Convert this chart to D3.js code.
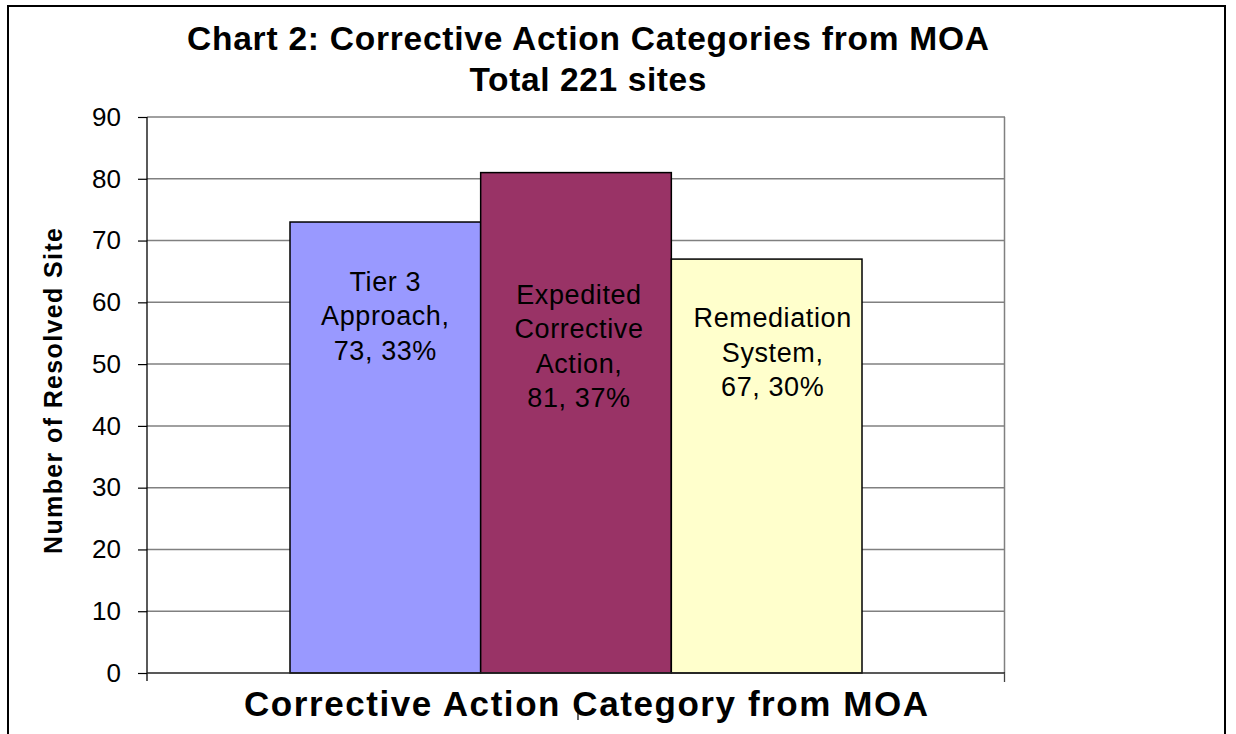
<!DOCTYPE html>
<html>
<head>
<meta charset="utf-8">
<script src="https://cdn.jsdelivr.net/npm/d3@7"></script>
<style>
  body { margin: 0; background: #fff; }
  text { font-family: "Liberation Sans", Arial, sans-serif; }
</style>
</head>
<body>
<script>
// chart data
var category = "Corrective Action";
var seriesNames = ["Tier 3 Approach", "Expedited Corrective Action", "Remediation System"];
var labelLines = [["Tier 3", "Approach,"], ["Expedited", "Corrective", "Action,"], ["Remediation", "System,"]];
var values = [73, 81, 67];
var colors = ["#9999ff", "#993366", "#ffffcc"];
var yTicks = [0, 10, 20, 30, 40, 50, 60, 70, 80, 90];
// where the first line of each data label sits, in chart units
var labelAt = [61.9, 59.8, 56.0];
var labelDx = [0, 3, 6];

var total = d3.sum(values);

var width = 1236, height = 734;
var plotLeft = 147, plotRight = 1005, plotTop = 117, plotBottom = 673;

var svg = d3.select("body").append("svg")
    .attr("width", width)
    .attr("height", height);

// outer frame
svg.append("rect")
    .attr("x", 8).attr("y", 6)
    .attr("width", 1217).attr("height", 760)
    .attr("fill", "none")
    .attr("stroke", "#000")
    .attr("stroke-width", 2);

var y = d3.scaleLinear().domain([0, 90]).range([plotBottom, plotTop]);

var x0 = d3.scaleBand()
    .domain([category])
    .range([plotLeft, plotRight])
    .paddingInner(0)
    .paddingOuter(0.25);

var x1 = d3.scaleBand()
    .domain(seriesNames)
    .range([0, x0.bandwidth()]);

// gridlines
svg.append("g").selectAll("line")
    .data(yTicks.filter(function(d) { return d > 0; }))
    .enter().append("line")
        .attr("x1", plotLeft).attr("x2", plotRight)
        .attr("y1", function(d) { return y(d); })
        .attr("y2", function(d) { return y(d); })
        .attr("stroke", "#808080")
        .attr("stroke-width", 1.5);

// right edge of plot area
svg.append("line")
    .attr("x1", plotRight - 0.5).attr("x2", plotRight - 0.5)
    .attr("y1", plotTop).attr("y2", plotBottom)
    .attr("stroke", "#808080")
    .attr("stroke-width", 1.5);

// bars
svg.append("g").selectAll("rect")
    .data(values)
    .enter().append("rect")
        .attr("x", function(d, i) { return x0(category) + x1(seriesNames[i]); })
        .attr("y", function(d) { return y(d); })
        .attr("width", x1.bandwidth())
        .attr("height", function(d) { return y(0) - y(d); })
        .attr("fill", function(d, i) { return colors[i]; })
        .attr("stroke", "#000")
        .attr("stroke-width", 1.5);

// y axis
var yAxis = d3.axisLeft(y)
    .tickValues(yTicks)
    .tickSize(9)
    .tickPadding(17);

var yg = svg.append("g")
    .attr("transform", "translate(" + plotLeft + ",0)")
    .call(yAxis);
yg.select(".domain").remove();
yg.selectAll(".tick line").attr("stroke", "#000").attr("stroke-width", 1.2);
yg.selectAll(".tick text")
    .attr("font-size", 26)
    .attr("fill", "#000")
    .style("font-family", "Liberation Sans, Arial, sans-serif");

svg.append("line")
    .attr("x1", plotLeft).attr("x2", plotLeft)
    .attr("y1", plotTop).attr("y2", plotBottom + 8)
    .attr("stroke", "#000")
    .attr("stroke-width", 1.3);

// x axis line and ticks
svg.append("line")
    .attr("x1", plotLeft).attr("x2", plotRight)
    .attr("y1", plotBottom).attr("y2", plotBottom)
    .attr("stroke", "#222")
    .attr("stroke-width", 1.5);

svg.append("line")
    .attr("x1", plotRight - 0.5).attr("x2", plotRight - 0.5)
    .attr("y1", plotBottom).attr("y2", plotBottom + 9)
    .attr("stroke", "#444")
    .attr("stroke-width", 1.3);

// data labels
var lbl = svg.append("g").selectAll("text")
    .data(values)
    .enter().append("text")
        .attr("text-anchor", "middle")
        .attr("font-size", 27)
        .attr("letter-spacing", 0.6)
        .attr("fill", "#000")
        .attr("transform", function(d, i) {
            var cx = x0(category) + x1(seriesNames[i]) + x1.bandwidth() / 2 + labelDx[i];
            return "translate(" + cx + "," + y(labelAt[i]) + ")";
        });

lbl.selectAll("tspan")
    .data(function(d, i) {
        return labelLines[i].concat([d + ", " + Math.round(d / total * 100) + "%"]);
    })
    .enter().append("tspan")
        .attr("x", 0)
        .attr("y", function(d, j) { return j * 34.5; })
        .text(function(d) { return d; });

// titles
svg.append("text")
    .attr("x", 588).attr("y", 50)
    .attr("text-anchor", "middle")
    .attr("font-size", 33.5)
    .attr("font-weight", "bold")
    .attr("textLength", 802)
    .attr("lengthAdjust", "spacing")
    .text("Chart 2: Corrective Action Categories from MOA");

svg.append("text")
    .attr("x", 588).attr("y", 91)
    .attr("text-anchor", "middle")
    .attr("font-size", 33.5)
    .attr("font-weight", "bold")
    .attr("textLength", 237)
    .attr("lengthAdjust", "spacing")
    .text("Total " + total + " sites");

svg.append("text")
    .attr("x", 586).attr("y", 716)
    .attr("text-anchor", "middle")
    .attr("font-size", 35)
    .attr("font-weight", "bold")
    .attr("textLength", 684)
    .attr("lengthAdjust", "spacing")
    .text("Corrective Action Category from MOA");

// small mark under the category
svg.append("line")
    .attr("x1", 578).attr("x2", 578)
    .attr("y1", 705).attr("y2", 720)
    .attr("stroke", "#000")
    .attr("stroke-width", 1.2);

svg.append("text")
    .attr("transform", "translate(62,391) rotate(-90)")
    .attr("text-anchor", "middle")
    .attr("font-size", 25)
    .attr("font-weight", "bold")
    .attr("textLength", 326)
    .attr("lengthAdjust", "spacing")
    .text("Number of Resolved Site");
</script>
</body>
</html>
